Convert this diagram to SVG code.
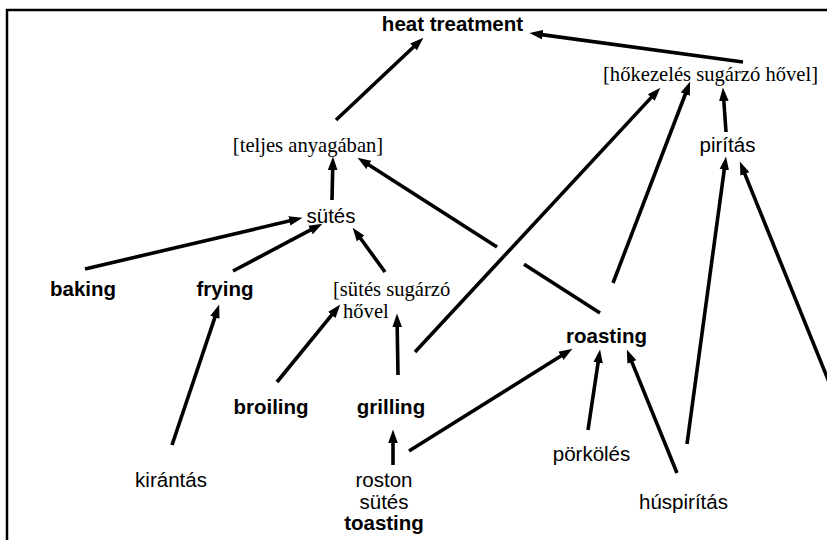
<svg xmlns="http://www.w3.org/2000/svg" width="827" height="540" viewBox="0 0 827 540">
<style>
.s{font-family:"Liberation Sans",Arial,sans-serif;font-size:20.5px;fill:#000;text-anchor:middle}
.b{font-weight:bold}
.t{font-family:"Liberation Serif","Times New Roman",serif;font-size:20.6px;fill:#000;text-anchor:middle}
.c path{fill:none;stroke:#000;stroke-width:3.6;marker-end:url(#ah)}
.c path.n{marker-end:none}
</style>
<defs>
<marker id="ah" markerUnits="userSpaceOnUse" viewBox="0 -5 15 10" markerWidth="15" markerHeight="10" refX="5" refY="0" orient="auto">
<path d="M0,-4.8 L13.5,0 L0,4.8 z" fill="#000"/>
</marker>
</defs>
<rect x="7" y="10" width="840" height="560" fill="#fff" stroke="#000" stroke-width="2.5"/>
<g class="c" id="connectors">
<path d="M336,120 L417.2,43.5"/>
<path d="M743,62 L537.9,34.1"/>
<path d="M332,200 L332.8,165"/>
<path class="n" d="M600,313 L524,264.3"/>
<path d="M497,247 L364.7,162.3"/>
<path d="M85,269 L294.2,219.8"/>
<path d="M233,271 L314.9,227.7"/>
<path d="M385,272 L357.7,234.5"/>
<path d="M172,445 L216.5,312.6"/>
<path d="M277,382 L334.9,311.2"/>
<path d="M398,375 L397.1,322"/>
<path d="M415,352 L654.6,93.9"/>
<path d="M613,283 L687.1,89.5"/>
<path d="M726,132 L723.5,96"/>
<path d="M687,444 L724.9,164.9"/>
<path d="M860,458.6 L743,169.4"/>
<path d="M393,465 L393,438"/>
<path d="M409,451 L565.2,353.2"/>
<path d="M588,430 L598.8,357.9"/>
<path d="M677,473 L630,357.4"/>
</g>
<g id="heat_treatment"><text class="s b" x="452.5" y="31">heat treatment</text></g>
<g id="hokezeles"><text class="t" x="710.5" y="81">[hőkezelés sugárzó hővel]</text></g>
<g id="teljes"><text class="t" x="308" y="152">[teljes anyagában]</text></g>
<g id="piritas"><text class="s" x="727.5" y="152">pirítás</text></g>
<g id="sutes"><text class="s" x="331" y="223">sütés</text></g>
<g id="baking"><text class="s b" x="83" y="296">baking</text></g>
<g id="frying"><text class="s b" x="225" y="296">frying</text></g>
<g id="sutes_sugarzo"><text class="t" x="333" y="296" style="text-anchor:start">[sütés sugárzó</text><text class="t" x="343" y="318" style="text-anchor:start">hővel</text></g>
<g id="roasting"><text class="s b" x="606.5" y="343">roasting</text></g>
<g id="broiling"><text class="s b" x="271" y="414">broiling</text></g>
<g id="grilling"><text class="s b" x="391" y="414">grilling</text></g>
<g id="kirantas"><text class="s" x="171" y="487">kirántás</text></g>
<g id="porkoles"><text class="s" x="591.5" y="461">pörkölés</text></g>
<g id="huspiritas"><text class="s" x="683.5" y="509">húspirítás</text></g>
<g id="toasting"><text class="s" x="384" y="487">roston</text><text class="s" x="384" y="509">sütés</text><text class="s b" x="384" y="530">toasting</text></g>
</svg>
